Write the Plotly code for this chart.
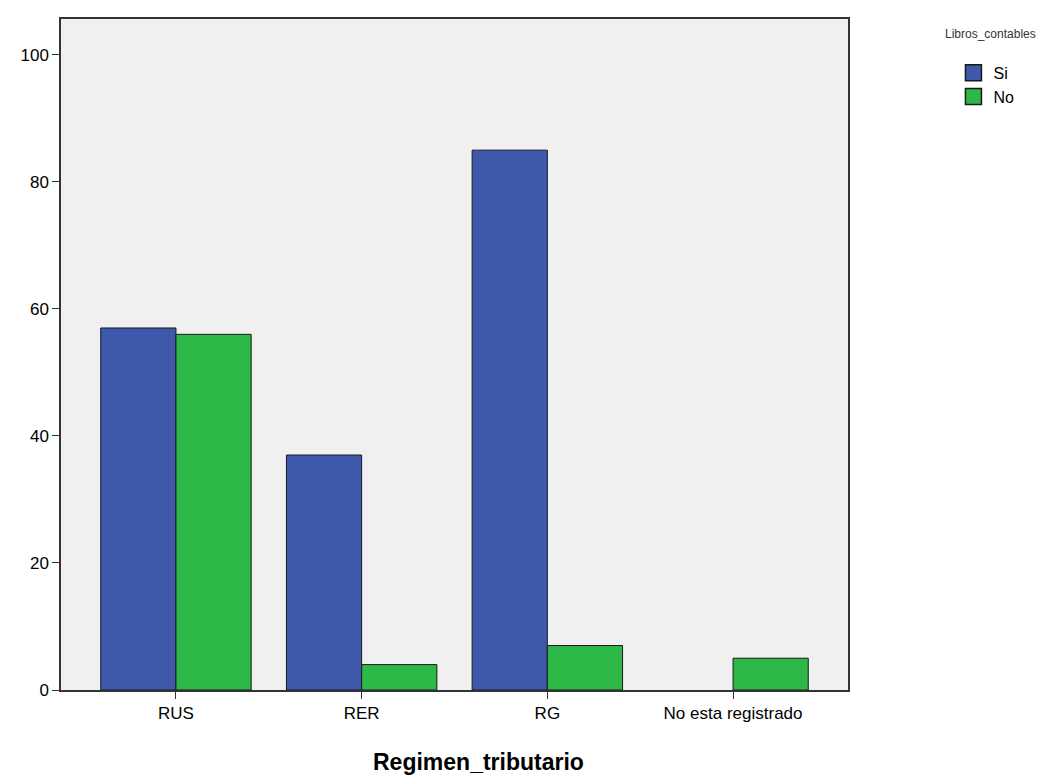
import plotly.graph_objects as go

categories = ["RUS", "RER", "RG", "No esta registrado"]
si_values = [57, 37, 85, 0]
no_values = [56, 4, 7, 5]
y_ticks = [0, 20, 40, 60, 80, 100]
series_names = ["Si", "No"]
series_colors = ["#3E58AC", "#2EB848"]

fig = go.Figure()
for name, vals, col in zip(series_names, [si_values, no_values], series_colors):
    fig.add_trace(go.Bar(name=name, x=categories, y=vals, showlegend=False,
                         marker=dict(color=col,
                                     line=dict(color="#1a1a1a",
                                               width=[1 if v else 0 for v in vals]))))
# legend entries with larger square swatches
for name, col in zip(series_names, series_colors):
    fig.add_trace(go.Scatter(name=name, x=[None], y=[None], mode="markers",
                             marker=dict(symbol="square", size=16, color=col,
                                         line=dict(color="#1a1a1a", width=1.5))))

fig.update_layout(
    width=1048, height=778,
    barmode="group", bargap=0.19, bargroupgap=0,
    plot_bgcolor="#F0F0F0", paper_bgcolor="white",
    margin=dict(l=53, r=208, t=9, b=96),
    font=dict(family="Liberation Sans, Arial, sans-serif", size=13, color="black"),
    xaxis=dict(range=[-0.619, 3.619], showline=True, linecolor="#333", linewidth=1.5,
               mirror=True, ticks="outside", ticklen=7, tickcolor="#333",
               tickfont=dict(size=17)),
    yaxis=dict(range=[0, 105.65], tickvals=y_ticks, showline=True, linecolor="#333",
               linewidth=1.5, mirror=True, ticks="outside", ticklen=7, tickcolor="#333",
               showgrid=False, zeroline=False, tickfont=dict(size=17)),
    legend=dict(x=1.134, y=0.945, xanchor="left", yanchor="top",
                font=dict(size=16), itemwidth=30, tracegroupgap=0,
                bgcolor="rgba(0,0,0,0)"),
    showlegend=True,
    annotations=[
        dict(text="<b>Regimen_tributario</b>", xref="paper", yref="paper",
             x=0.53, y=0, yshift=-72, xanchor="center", yanchor="middle",
             showarrow=False, font=dict(size=23)),
        dict(text="Libros_contables", xref="paper", yref="paper",
             x=(990 - 61) / 787, y=1, yshift=-15, xanchor="center", yanchor="middle",
             showarrow=False, font=dict(size=12, color="#333")),
    ],
)
fig.write_html("out.html")
